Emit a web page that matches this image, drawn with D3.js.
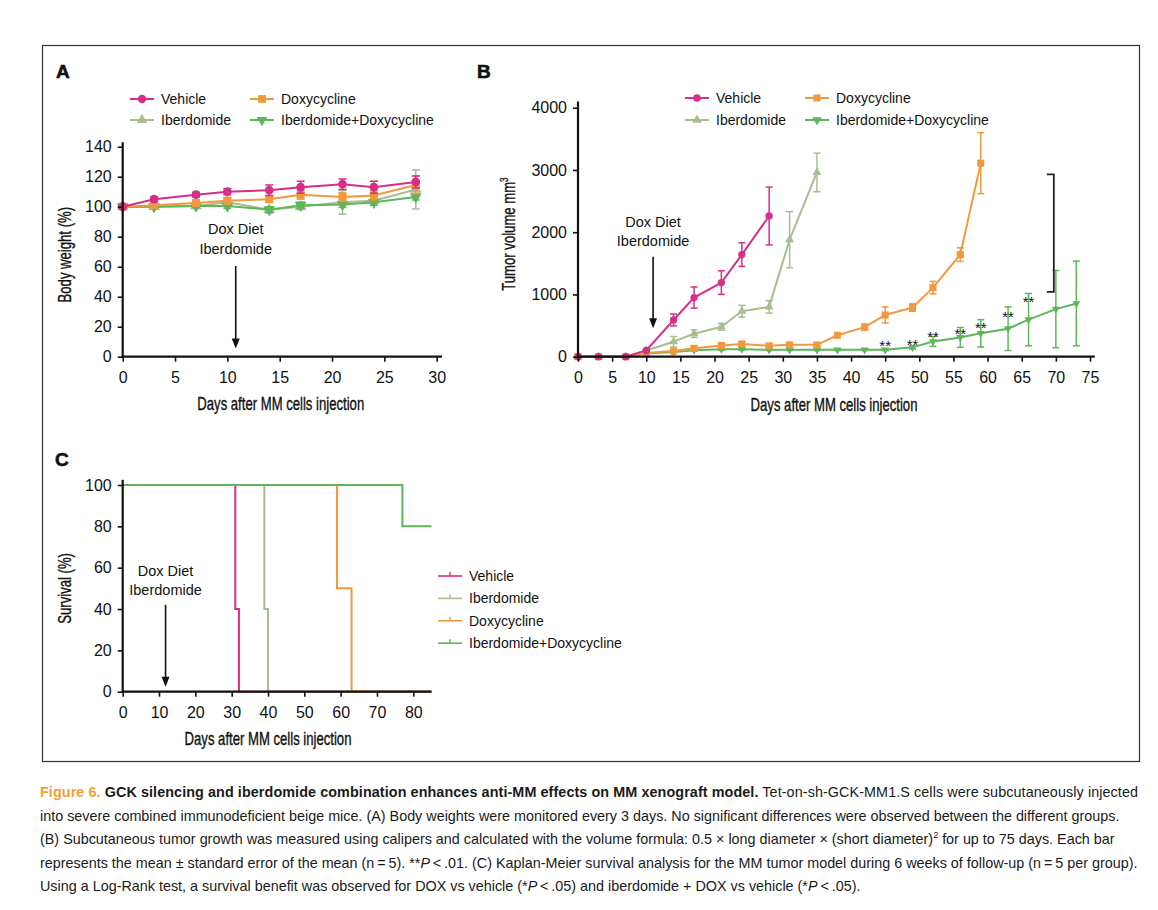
<!DOCTYPE html>
<html>
<head>
<meta charset="utf-8">
<script src="https://cdn.jsdelivr.net/npm/d3@7"></script>
<style>
  body { margin: 0; background: #fff; }
  svg text { font-family: "Liberation Sans", Arial, Helvetica, sans-serif; }
</style>
</head>
<body>
<svg id="fig" width="1158" height="910"></svg>
<script>
// ---- data ----
// A: body weight (%)
const weightDays = [0, 3, 7, 10, 14, 17, 21, 24, 28];
const weightVehicle = [100, 105, 108, 110, 111, 113, 115, 113, 116.5];
const weightVehicleErr = [1, 1.5, 1.5, 2, 3.5, 4, 3.5, 4, 4];
const weightDoxy = [100, 101, 102.5, 104, 105, 108, 106.5, 107.5, 114.5];
const weightDoxyErr = [1, 1, 2, 2, 2, 3, 3, 3, 6];
const weightIber = [100, 100, 100.5, 103, 98, 100, 103, 104, 111.5];
const weightIberErr = [1, 1, 1.5, 2, 2, 2, 8, 3, 13];
const weightCombo = [100, 100, 100.5, 100.5, 98, 101, 101.5, 103, 106.5];
const weightComboErr = [1, 1, 1, 1.5, 2, 2, 2, 2, 2];
const weightXTicks = [0, 5, 10, 15, 20, 25, 30];
const weightYTicks = [0, 20, 40, 60, 80, 100, 120, 140];

// B: tumor volume mm3
const tumorDaysVehicle = [0, 3, 7, 10, 14, 17, 21, 24, 28];
const tumorVehicle = [0, 0, 0, 100, 590, 950, 1190, 1640, 2260];
const tumorVehicleErr = [0, 0, 0, 15, 95, 170, 190, 190, 465];
const tumorDaysIber = [0, 3, 7, 10, 14, 17, 21, 24, 28, 31, 35];
const tumorIber = [0, 0, 0, 100, 240, 370, 480, 730, 800, 1880, 2960];
const tumorIberErr = [0, 0, 0, 10, 85, 60, 55, 95, 100, 450, 310];
const tumorDaysDoxy = [0, 3, 7, 10, 14, 17, 21, 24, 28, 31, 35, 38, 42, 45, 49, 52, 56, 59];
const tumorDoxy = [0, 0, 0, 60, 90, 135, 180, 205, 175, 190, 190, 345, 475, 670, 790, 1110, 1640, 3110];
const tumorDoxyErr = [0, 0, 0, 10, 25, 30, 30, 35, 30, 25, 30, 25, 50, 130, 60, 100, 110, 490];
const tumorDaysCombo = [0, 3, 7, 10, 14, 17, 21, 24, 28, 31, 35, 38, 42, 45, 49, 52, 56, 59, 63, 66, 70, 73];
const tumorCombo = [0, 0, 0, 50, 75, 105, 120, 120, 110, 110, 110, 110, 110, 110, 150, 245, 310, 375, 450, 595, 765, 855];
const tumorComboErr = [0, 0, 0, 5, 10, 15, 15, 15, 10, 10, 10, 10, 10, 10, 25, 80, 160, 220, 350, 420, 620, 680];
const tumorXTicks = [0, 5, 10, 15, 20, 25, 30, 35, 40, 45, 50, 55, 60, 65, 70, 75];
const tumorYTicks = [0, 1000, 2000, 3000, 4000];
const sigDays = [45, 49, 52, 56, 59, 63, 66];
const sigLevels = [232, 243, 378, 416, 524, 688, 940];
const bracketDay = 69.7;
const bracketSpan = [1040, 2930];

// C: Kaplan-Meier survival (%)
const kmVehicleTimes = [0, 31, 32, 85];
const kmVehicleSurv = [100, 40, 0, 0];
const kmIberTimes = [0, 39, 40, 85];
const kmIberSurv = [100, 40, 0, 0];
const kmDoxyTimes = [0, 59, 63, 85];
const kmDoxySurv = [100, 50, 0, 0];
const kmComboTimes = [0, 77, 85];
const kmComboSurv = [100, 80, 80];
const survXTicks = [0, 10, 20, 30, 40, 50, 60, 70, 80];
const survYTicks = [0, 20, 40, 60, 80, 100];

// ---- styles ----
const cVehicle = "#d62f88";
const cDoxy = "#f0993f";
const cIber = "#a9bd90";
const cCombo = "#5db65a";
const ink = "#111";

const svg = d3.select("#fig");
svg.append("rect").attr("width", 1158).attr("height", 910).attr("fill", "#fff");

// frame
svg.append("rect")
    .attr("x", 42.5).attr("y", 45.5).attr("width", 1097).attr("height", 716)
    .attr("fill", "none").attr("stroke", "#333").attr("stroke-width", 1.2);

// panel letters
[["A", 56, 78], ["B", 477, 78], ["C", 55, 466]].forEach(([t, x, y]) => {
    svg.append("text").attr("x", x).attr("y", y).text(t)
        .attr("font-size", 19).attr("font-weight", 900).attr("fill", ink)
        .attr("stroke", ink).attr("stroke-width", 0.6);
});

// scales
const xA = d3.scaleLinear().domain([0, 30]).range([122.7, 436.7]);
const yA = d3.scaleLinear().domain([0, 140]).range([356.7, 146.7]);
const xB = d3.scaleLinear().domain([0, 75]).range([578, 1090]);
const yB = d3.scaleLinear().domain([0, 4000]).range([356.7, 107.7]);
const xC = d3.scaleLinear().domain([0, 80]).range([122.7, 413.3]);
const yC = d3.scaleLinear().domain([0, 100]).range([691.7, 485]);

function condensed(x, y, rot, str, sup) {
    const t = svg.append("text")
        .attr("transform", `translate(${x},${y}) rotate(${rot}) scale(0.75,1)`)
        .attr("text-anchor", "middle").attr("font-size", 17.5).attr("fill", ink)
        .attr("stroke", ink).attr("stroke-width", 0.35)
        .text(str);
    if (sup) t.append("tspan").attr("font-size", 11).attr("dy", -7).text(sup);
}

function axes(x, y, xTicks, yTicks, xMax, yMax) {
    const g = svg.append("g");
    const gx = g.append("g").attr("transform", `translate(0,${y(0)})`)
        .call(d3.axisBottom(x).tickValues(xTicks).tickFormat(d3.format("d"))
            .tickSize(5).tickPadding(10).tickSizeOuter(0));
    const gy = g.append("g").attr("transform", `translate(${x(0)},0)`)
        .call(d3.axisLeft(y).tickValues(yTicks).tickFormat(d3.format("d"))
            .tickSize(5).tickPadding(6).tickSizeOuter(0));
    [gx, gy].forEach(a => {
        a.select(".domain").remove();
        a.attr("font-size", 16).attr("font-family", null);
        a.selectAll(".tick line").attr("stroke", ink).attr("stroke-width", 1.6);
        a.selectAll(".tick text").attr("fill", ink);
    });
    g.append("line").attr("x1", x(0) - 1).attr("x2", x(xMax)).attr("y1", y(0)).attr("y2", y(0))
        .attr("stroke", ink).attr("stroke-width", 2.2);
    g.append("line").attr("x1", x(0)).attr("x2", x(0)).attr("y1", y(0) + 1).attr("y2", y(yMax))
        .attr("stroke", ink).attr("stroke-width", 2.2);
}

function symbolFor(kind, size) {
    if (kind === "circle") return d3.symbol(d3.symbolCircle, size)();
    if (kind === "square") return d3.symbol(d3.symbolSquare, size)();
    return d3.symbol(d3.symbolTriangle, size)();
}

function series(x, y, days, vals, errs, color, kind, size, cap) {
    const g = svg.append("g");
    const pts = days.map((d, i) => ({ d, v: vals[i], e: errs[i] }));
    const eb = g.selectAll(".eb").data(pts.filter(p => p.e > 0)).enter().append("g")
        .attr("stroke", color).attr("stroke-width", 1.5);
    eb.append("line").attr("x1", p => x(p.d)).attr("x2", p => x(p.d))
        .attr("y1", p => y(p.v - p.e)).attr("y2", p => y(p.v + p.e));
    eb.append("line").attr("x1", p => x(p.d) - cap).attr("x2", p => x(p.d) + cap)
        .attr("y1", p => y(p.v + p.e)).attr("y2", p => y(p.v + p.e));
    eb.append("line").attr("x1", p => x(p.d) - cap).attr("x2", p => x(p.d) + cap)
        .attr("y1", p => y(p.v - p.e)).attr("y2", p => y(p.v - p.e));
    g.append("path").datum(pts)
        .attr("d", d3.line().x(p => x(p.d)).y(p => y(p.v)))
        .attr("fill", "none").attr("stroke", color).attr("stroke-width", 2);
    g.selectAll(".m").data(pts).enter().append("path")
        .attr("d", symbolFor(kind, size))
        .attr("transform", p => `translate(${x(p.d)},${y(p.v)})` + (kind === "down" ? " rotate(180)" : ""))
        .attr("fill", color);
}

function legendItem(x, y, color, kind, size, label) {
    svg.append("line").attr("x1", x).attr("x2", x + 24).attr("y1", y).attr("y2", y)
        .attr("stroke", color).attr("stroke-width", 2);
    svg.append("path").attr("d", symbolFor(kind, size))
        .attr("transform", `translate(${x + 12},${y})` + (kind === "down" ? " rotate(180)" : ""))
        .attr("fill", color);
    svg.append("text").attr("x", x + 31).attr("y", y + 5).attr("font-size", 14)
        .attr("fill", ink).text(label);
}

function doxArrow(x, yText, yTop, yBottom) {
    svg.append("text").attr("x", x).attr("y", yText).attr("text-anchor", "middle")
        .attr("font-size", 14.5).attr("fill", ink)
        .selectAll("tspan").data(["Dox Diet", "Iberdomide"]).enter().append("tspan")
        .attr("x", x).attr("dy", (d, i) => i ? 19.5 : 0).text(d => d);
    svg.append("line").attr("x1", x).attr("x2", x).attr("y1", yTop).attr("y2", yBottom - 8)
        .attr("stroke", ink).attr("stroke-width", 1.6);
    svg.append("path")
        .attr("d", `M${x - 4},${yBottom - 10}L${x + 4},${yBottom - 10}L${x},${yBottom}Z`)
        .attr("fill", ink);
}

// ---- Panel A ----
legendItem(130, 99, cVehicle, "circle", 55, "Vehicle");
legendItem(250, 99, cDoxy, "square", 60, "Doxycycline");
legendItem(130, 120, cIber, "up", 50, "Iberdomide");
legendItem(250, 120, cCombo, "down", 50, "Iberdomide+Doxycycline");

series(xA, yA, weightDays, weightIber, weightIberErr, cIber, "up", 60, 4);
series(xA, yA, weightDays, weightCombo, weightComboErr, cCombo, "down", 60, 4);
series(xA, yA, weightDays, weightDoxy, weightDoxyErr, cDoxy, "square", 64, 4);
series(xA, yA, weightDays, weightVehicle, weightVehicleErr, cVehicle, "circle", 60, 4);
axes(xA, yA, weightXTicks, weightYTicks, 30.5, 143);
condensed(xA(15.1), 410, 0, "Days after MM cells injection");
condensed(71, yA(68), -90, "Body weight (%)");
doxArrow(xA(10.8), yA(81.5), yA(60.5), yA(5.5));

// ---- Panel B ----
legendItem(685, 98, cVehicle, "circle", 45, "Vehicle");
legendItem(805, 98, cDoxy, "square", 50, "Doxycycline");
legendItem(685, 120, cIber, "up", 40, "Iberdomide");
legendItem(805, 120, cCombo, "down", 40, "Iberdomide+Doxycycline");

series(xB, yB, tumorDaysCombo, tumorCombo, tumorComboErr, cCombo, "down", 28, 3.5);
series(xB, yB, tumorDaysDoxy, tumorDoxy, tumorDoxyErr, cDoxy, "square", 50, 3.5);
series(xB, yB, tumorDaysIber, tumorIber, tumorIberErr, cIber, "up", 35, 3.5);
series(xB, yB, tumorDaysVehicle, tumorVehicle, tumorVehicleErr, cVehicle, "circle", 42, 3.5);
axes(xB, yB, tumorXTicks, tumorYTicks, 75.7, 4100);
condensed(xB(37.5), 411, 0, "Days after MM cells injection");
condensed(515, 234, -90, "Tumor volume mm", "3");
doxArrow(xB(11), yB(2090), yB(1606), yB(456));

svg.append("g").selectAll("text").data(sigDays).enter().append("text")
    .attr("x", d => xB(d)).attr("y", (d, i) => yB(sigLevels[i]) + 8.5)
    .attr("text-anchor", "middle").attr("font-size", 15).attr("fill", ink).text("**");
svg.append("path")
    .attr("d", `M${xB(bracketDay) - 7},${yB(bracketSpan[1])}H${xB(bracketDay)}V${yB(bracketSpan[0])}H${xB(bracketDay) - 7}`)
    .attr("fill", "none").attr("stroke", "#222").attr("stroke-width", 1.8);

// ---- Panel C ----
const km = [
    [kmVehicleTimes, kmVehicleSurv, cVehicle],
    [kmIberTimes, kmIberSurv, cIber],
    [kmDoxyTimes, kmDoxySurv, cDoxy],
    [kmComboTimes, kmComboSurv, cCombo]
];
const step = d3.line().curve(d3.curveStepAfter).x(p => xC(p[0])).y(p => yC(p[1]));
km.forEach(([ts, ss, col]) => {
    svg.append("path").datum(ts.map((t, i) => [t, ss[i]]))
        .attr("d", step).attr("fill", "none").attr("stroke", col).attr("stroke-width", 2);
});
axes(xC, yC, survXTicks, survYTicks, 85, 102.5);
condensed(xC(40), 745, 0, "Days after MM cells injection");
condensed(71, yC(50), -90, "Survival (%)");
doxArrow(xC(11.8), yC(56), yC(42), yC(2.4));

["Vehicle", "Iberdomide", "Doxycycline", "Iberdomide+Doxycycline"].forEach((lab, i) => {
    const y = 576 + i * 22.4;
    const col = [cVehicle, cIber, cDoxy, cCombo][i];
    svg.append("line").attr("x1", 438).attr("x2", 462).attr("y1", y).attr("y2", y)
        .attr("stroke", col).attr("stroke-width", 1.6);
    svg.append("line").attr("x1", 450).attr("x2", 450).attr("y1", y - 4).attr("y2", y)
        .attr("stroke", col).attr("stroke-width", 1.4);
    svg.append("text").attr("x", 469).attr("y", y + 5).attr("font-size", 14)
        .attr("fill", ink).text(lab);
});

// ---- caption ----
const captionLines = [
    [["Figure 6. ", "fig"], ["GCK silencing and iberdomide combination enhances anti-MM effects on MM xenograft model.", "b"], [" Tet-on-sh-GCK-MM1.S cells were subcutaneously injected", "r"]],
    [["into severe combined immunodeficient beige mice. (A) Body weights were monitored every 3 days. No significant differences were observed between the different groups.", "r"]],
    [["(B) Subcutaneous tumor growth was measured using calipers and calculated with the volume formula: 0.5 \u00d7 long diameter \u00d7 (short diameter)", "r"], ["2", "sup"], [" for up to 75 days. Each bar", "r"]],
    [["represents the mean \u00b1 standard error of the mean (n\u2009=\u20095). **", "r"], ["P", "i"], ["\u2009<\u2009.01. (C) Kaplan-Meier survival analysis for the MM tumor model during 6 weeks of follow-up (n\u2009=\u20095 per group).", "r"]],
    [["Using a Log-Rank test, a survival benefit was observed for DOX vs vehicle (*", "r"], ["P", "i"], ["\u2009<\u2009.05) and iberdomide + DOX vs vehicle (*", "r"], ["P", "i"], ["\u2009<\u2009.05).", "r"]]
];
const cap = svg.append("g").attr("fill", "#1a1a1a");
const capTexts = captionLines.map((segs, li) => {
    const t = cap.append("text").attr("x", 40).attr("y", 797 + li * 23.5).attr("font-size", 14);
    segs.forEach(([s, st]) => {
        const sp = t.append("tspan").text(s);
        if (st === "fig") sp.attr("font-weight", "bold").attr("fill", "#f0a032");
        if (st === "b") sp.attr("font-weight", "bold");
        if (st === "i") sp.attr("font-style", "italic");
        if (st === "sup") { sp.attr("font-size", 9).attr("dy", -6); }
    });
    segs.forEach(([s, st], k) => {
        if (st === "sup") d3.select(t.selectAll("tspan").nodes()[k + 1]).attr("dy", 6);
    });
    return t;
});
// size the caption so the fourth (longest plain) line ends at the frame's right edge,
// then stretch the first line's spacing to end there too
const len4 = capTexts[3].node().getComputedTextLength();
const fs = 14 * (1098 / len4);
capTexts.forEach(t => t.attr("font-size", fs));
capTexts[0].attr("textLength", 1098).attr("lengthAdjust", "spacing");
</script>
</body>
</html>
